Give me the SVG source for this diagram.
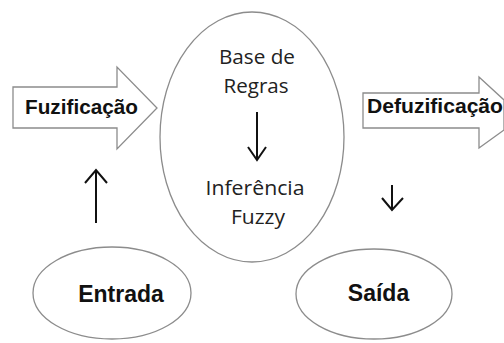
<svg xmlns="http://www.w3.org/2000/svg" width="504" height="343" viewBox="0 0 504 343">
<style>
.shape{fill:#fff;stroke:#8c8c8c;stroke-width:1.3}
.bold{font-family:"Liberation Sans",Arial,sans-serif;font-weight:bold;fill:#111}
.reg{font-family:"Open Sans","Liberation Sans",sans-serif;fill:#222;font-size:20px}
.conn{fill:none;stroke:#111;stroke-width:2}
</style>
<rect width="504" height="343" fill="#fff"/>
<g id="fuzificacao">
<polygon class="shape" points="13,87 117,87 117,67 157,108 117,149 117,128 13,128"/>
<text class="bold" x="25" y="114" font-size="20" textLength="113" lengthAdjust="spacingAndGlyphs">Fuzificação</text>
</g>
<g id="defuzificacao">
<polygon class="shape" points="363,93 479,93 479,77 504,100 504,130 479,148 479,128 363,128"/>
<text class="bold" x="367" y="113" font-size="20" textLength="136" lengthAdjust="spacingAndGlyphs">Defuzificação</text>
</g>
<g id="base">
<ellipse class="shape" cx="252" cy="137" rx="92" ry="125"/>
<text class="reg" x="257" y="64" text-anchor="middle" textLength="76" lengthAdjust="spacingAndGlyphs">Base de</text>
<text class="reg" x="256" y="93" text-anchor="middle" textLength="65" lengthAdjust="spacingAndGlyphs">Regras</text>
<text class="reg" x="255" y="195" text-anchor="middle" textLength="99" lengthAdjust="spacingAndGlyphs">Inferência</text>
<text class="reg" x="258" y="224" text-anchor="middle" textLength="54" lengthAdjust="spacingAndGlyphs">Fuzzy</text>
</g>
<g id="entrada">
<ellipse class="shape" cx="112" cy="293" rx="79" ry="46"/>
<text class="bold" x="121" y="302" font-size="23" text-anchor="middle">Entrada</text>
</g>
<g id="saida">
<ellipse class="shape" cx="374" cy="294" rx="78" ry="45"/>
<text class="bold" x="378.5" y="301" font-size="23" text-anchor="middle">Saída</text>
</g>
<g id="connectors">
<path class="conn" d="M257,112 V160 M248,147 L257,160 L266,147"/>
<path class="conn" d="M96,223 V170 M85,183 L96,170 L107,183"/>
<path class="conn" d="M392,185 V210 M382,198 L392,210 L403,198"/>
</g>
</svg>
